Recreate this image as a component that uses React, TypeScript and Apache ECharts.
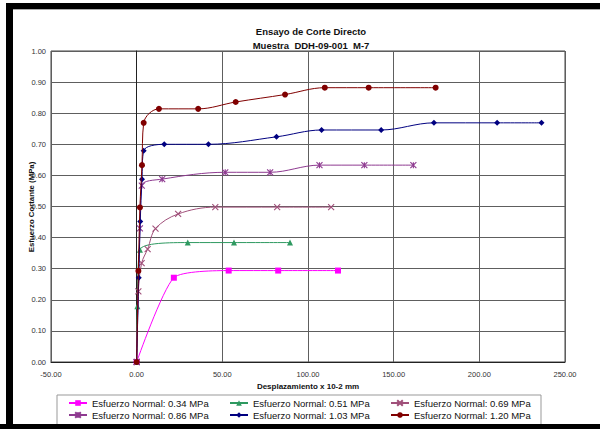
import React, { useEffect, useRef } from "react";
import * as echarts from "echarts";

const titleLines = ["Ensayo de Corte Directo", "Muestra  DDH-09-001  M-7"];
const xAxisName = "Desplazamiento x 10-2 mm";
const yAxisName = "Esfuerzo Cortante (MPa)";

const seriesNames = [
  "Esfuerzo Normal: 0.34 MPa",
  "Esfuerzo Normal: 0.51 MPa",
  "Esfuerzo Normal: 0.69 MPa",
  "Esfuerzo Normal: 0.86 MPa",
  "Esfuerzo Normal: 1.03 MPa",
  "Esfuerzo Normal: 1.20 MPa",
];

const s034 = [[0, 0], [21.7, 0.271], [53.7, 0.294], [82.6, 0.294], [117.5, 0.294]];
const s051 = [[0, 0], [0.4, 0.179], [1.9, 0.361], [29.8, 0.384], [56.8, 0.384], [89.5, 0.384]];
const s069 = [[0, 0], [1.0, 0.227], [2.9, 0.318], [6.4, 0.363], [11.0, 0.429], [24.2, 0.476], [45.9, 0.498], [82.0, 0.498], [113.5, 0.498]];
const s086 = [[0, 0], [1.9, 0.43], [3.0, 0.567], [14.9, 0.588], [51.7, 0.61], [77.9, 0.61], [106.7, 0.633], [132.9, 0.633], [161.5, 0.633]];
const s103 = [[0, 0], [1.2, 0.271], [2.1, 0.452], [3.1, 0.588], [4.1, 0.679], [16.1, 0.7], [41.9, 0.7], [81.6, 0.724], [107.9, 0.746], [142.7, 0.746], [173.5, 0.769], [210.4, 0.769], [236.3, 0.769]];
const s120 = [[0, 0], [1.0, 0.293], [1.9, 0.497], [3.1, 0.633], [4.1, 0.769], [13.0, 0.814], [35.9, 0.814], [57.8, 0.836], [86.6, 0.86], [109.8, 0.882], [135.4, 0.882], [174.5, 0.882]];

const seriesData = [s034, s051, s069, s086, s103, s120];
const colors = ["#FF00FF", "#2E9960", "#A0507A", "#8E3A90", "#000080", "#800000"];
const symbols = [
  "rect",
  "triangle",
  "path://M0,0L10,10M10,0L0,10",
  "path://M0,0L10,10M10,0L0,10M5,0L5,10",
  "diamond",
  "circle",
];
const symbolSizes = [6, 6, 6, 6, 6, 6];
const smoothness = [0.2, 0.35, 0.35, 0.35, 0.35, 0.35];

const FONT = "'Liberation Sans', Arial, sans-serif";

export default function App() {
  const ref = useRef<HTMLDivElement>(null);
  useEffect(() => {
    if (!ref.current) return;
    const chart = echarts.init(ref.current, undefined, { renderer: "svg" });
    const legendPos = [
      [68, 397], [229, 397], [390, 397],
      [68, 409], [229, 409], [390, 409],
    ];
    const series = seriesData.map((d, i) => {
      const isPath = symbols[i].startsWith("path://");
      return {
        name: seriesNames[i],
        type: "line",
        data: d,
        smooth: smoothness[i],
        symbol: symbols[i],
        symbolSize: symbolSizes[i],
        showAllSymbol: true,
        lineStyle: { color: colors[i], width: 1 },
        itemStyle: isPath
          ? { color: colors[i], borderColor: colors[i], borderWidth: 1.1 }
          : { color: colors[i], borderWidth: 0 },
        emphasis: { disabled: true },
        z: 2 + i,
      };
    });
    const legends = seriesNames.map((n, i) => ({
      data: [n],
      left: legendPos[i][0],
      top: legendPos[i][1],
      orient: "horizontal",
      padding: 0,
      itemWidth: 18,
      itemHeight: 7,
      selectedMode: false,
      textStyle: { fontFamily: FONT, fontSize: 9.5, color: "#111", lineHeight: 12 },
    }));
    chart.setOption({
      animation: false,
      backgroundColor: "#fff",
      title: {
        text: titleLines.join("\n"),
        left: 306,
        top: 20,
        textAlign: "center",
        textStyle: { fontFamily: FONT, fontSize: 9.5, fontWeight: "bold", color: "#111", lineHeight: 13.5 },
      },
      legend: legends,
      grid: {
        left: 51,
        right: 35,
        top: 51,
        bottom: 67,
        show: true,
        borderColor: "#444",
        borderWidth: 1,
        containLabel: false,
        outerBoundsMode: "none",
      },
      xAxis: {
        type: "value",
        min: -50,
        max: 250,
        interval: 50,
        name: xAxisName,
        nameLocation: "middle",
        nameGap: 20,
        nameTextStyle: { fontFamily: FONT, fontSize: 8, fontWeight: "bold", color: "#111" },
        axisLine: { show: true, lineStyle: { color: "#222", width: 1 } },
        axisTick: { show: false },
        axisLabel: {
          fontFamily: FONT,
          fontSize: 7.5,
          color: "#333",
          margin: 8,
          formatter: (v: number) => v.toFixed(2),
        },
        splitLine: { show: true, lineStyle: { color: "#5e5e5e", width: 1 } },
      },
      yAxis: {
        type: "value",
        min: 0,
        max: 1,
        interval: 0.1,
        axisLine: { show: true, onZero: true, lineStyle: { color: "#222", width: 1 } },
        axisTick: { show: false },
        axisLabel: {
          fontFamily: FONT,
          fontSize: 7.5,
          color: "#333",
          margin: 5,
          formatter: (v: number) => v.toFixed(2),
        },
        splitLine: { show: true, lineStyle: { color: "#5e5e5e", width: 1 } },
      },
      graphic: [
        {
          type: "text",
          x: 31,
          y: 207,
          rotation: Math.PI / 2,
          style: {
            text: yAxisName,
            fontFamily: FONT,
            fontSize: 7.8,
            fontWeight: "bold",
            fill: "#111",
            align: "center",
            verticalAlign: "middle",
          },
        },
        { type: "rect", shape: { x: 57, y: 395, width: 484, height: 30 }, style: { fill: "none", stroke: "#999", lineWidth: 1 }, z: 0 },
        { type: "rect", shape: { x: 6, y: 3, width: 594, height: 6 }, style: { fill: "#000" }, z: 100 },
        { type: "rect", shape: { x: 6, y: 9, width: 594, height: 1 }, style: { fill: "#aaa" }, z: 100 },
        { type: "rect", shape: { x: 6, y: 3, width: 7, height: 426 }, style: { fill: "#000" }, z: 100 },
        { type: "rect", shape: { x: 0, y: 424, width: 600, height: 5 }, style: { fill: "#000" }, z: 100 },
      ],
      series,
    });
    return () => chart.dispose();
  }, []);
  return (
    <div
      ref={ref}
      style={{ position: "fixed", left: 0, top: 0, width: 600, height: 429 }}
    />
  );
}
